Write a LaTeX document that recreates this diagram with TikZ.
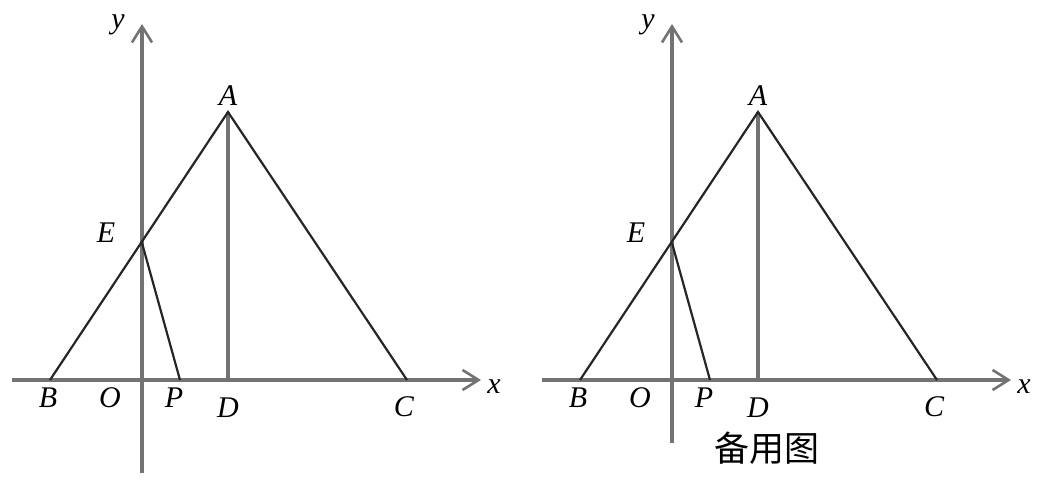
\documentclass[tikz,border=0pt]{standalone}
\usepackage{fontspec}
\setmainfont{Liberation Serif}
\newfontfamily\cjk{Noto Sans CJK SC}
\usetikzlibrary{positioning,arrows.meta}
\tikzset{
  axis/.style={draw=black!55,line width=1.6pt},
  axarrow/.style={axis,-{Straight Barb[length=8pt,width=10pt,line width=1.3pt]}},
  seg/.style={draw=black!85,line width=1.1pt},
  lbl/.style={font=\fontsize{15}{17}\selectfont\itshape,inner sep=0pt},
  caption/.style={font=\cjk\fontsize{17.5}{19}\selectfont,inner sep=0pt}
}
\begin{document}
\begin{tikzpicture}[x=0.5pt,y=-0.5pt]
  \useasboundingbox (0,0) rectangle (1040,486);
  % main figure and spare copy
  \foreach \dx/\f/\ybot in {0/l/473,530/r/443}{
    \begin{scope}[shift={(\dx,0)}]
      \coordinate (xs\f) at (12,380);
      \coordinate (xe\f) at (481,380);
      \coordinate (ys\f) at (142,\ybot);
      \coordinate (ye\f) at (142,24);
      \coordinate (O\f) at (142,380);
      \coordinate (A\f) at (228,112);
      \coordinate (B\f) at (50,380);
      \coordinate (C\f) at (407,380);
      \coordinate (D\f) at (228,380);
      \coordinate (P\f) at (180,380);
      \coordinate (E\f) at (142,243);
      \draw[axarrow] (xs\f) -- (xe\f);
      \draw[axarrow] (ys\f) -- (ye\f);
      \draw[axis] (A\f) -- (D\f);
      \draw[seg] (B\f) -- (A\f) -- (C\f);
      \draw[seg] (E\f) -- (P\f);
      \node[lbl] (lx\f) at (494,387) {x};
      \node[lbl] (ly\f) at (118,25) {y};
      \node[lbl] (lA\f) at (228,96) {A};
      \node[lbl] (lB\f) at (48,398) {B};
      \node[lbl] (lO\f) at (110,398) {O};
      \node[lbl] (lP\f) at (174,398) {P};
      \node[lbl] (lD\f) at (228,408) {D};
      \node[lbl] (lC\f) at (404,407) {C};
      \node[lbl] (lE\f) at (106,233) {E};
    \end{scope}
  }
  \node[caption] (spare) at (767,448) {备用图};
\end{tikzpicture}
\end{document}
